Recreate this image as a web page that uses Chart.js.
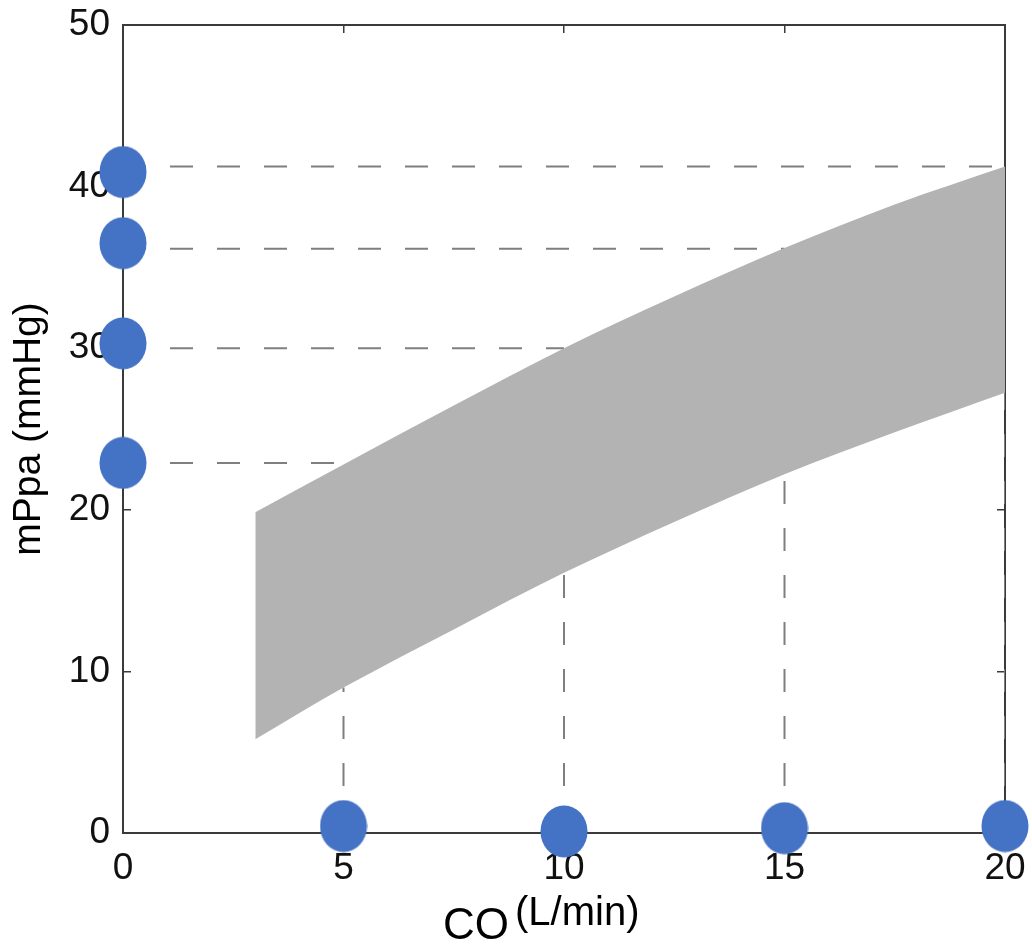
<!DOCTYPE html>
<html>
<head>
<meta charset="utf-8">
<script src="https://cdn.jsdelivr.net/npm/chart.js@4.4.1/dist/chart.umd.min.js"></script>
<style>
  html, body { margin: 0; padding: 0; background: #ffffff; }
  #wrap { width: 1032px; height: 945px; }
</style>
</head>
<body>
<div id="wrap"><canvas id="c" width="1032" height="945"></canvas></div>
<script>
// ---- data ----
const coGrid    = [3, 5, 7.5, 10, 12.5, 15, 17.5, 20];
const upperMPpa = [19.85, 22.8, 26.45, 30.0, 33.2, 36.2, 38.9, 41.25];
const lowerMPpa = [5.8, 9.0, 12.6, 16.1, 19.25, 22.2, 24.8, 27.25];

const coMarks     = [5, 10, 15, 20];
const levelAtMark = [22.9, 30.0, 36.15, 41.25]; // horizontal dashed guides
const lowerAtMark = [9.0, 16.1, 22.2, 27.25];   // vertical dashed guides

const yDotX = [0, 0, 0, 0];
const yDotY = [40.9, 36.5, 30.3, 22.9];
const xDotX = [5, 10, 15, 20];
const xDotY = [0.43, 0.1, 0.3, 0.43];

const xTickValues = [0, 5, 10, 15, 20];
const yTickValues = [0, 10, 20, 30, 40, 50];

const xTitleMain = 'CO';
const xTitleUnit = '(L/min)';
const yTitle = 'mPpa (mmHg)';

// ---- styles ----
const FONT = "'Liberation Sans', Arial, Helvetica, sans-serif";
const BLUE = '#4472c4';
const BAND = '#b3b3b3';
const DASH = '#7f7f7f';
const AXIS = '#3a3a3a';

function ellipseStyle(w, h, color) {
  const cv = document.createElement('canvas');
  cv.width = w; cv.height = h;
  const g = cv.getContext('2d');
  g.fillStyle = color;
  g.beginPath();
  g.ellipse(w / 2, h / 2, w / 2 - 0.5, h / 2 - 0.5, 0, 0, Math.PI * 2);
  g.fill();
  return cv;
}
const dotImg = ellipseStyle(48, 53, BLUE);

const datasets = [];

// dots (on top)
datasets.push({
  type: 'scatter', order: 0, clip: false,
  data: yDotX.map((x, i) => ({ x, y: yDotY[i] })),
  pointStyle: dotImg, pointRadius: 24, showLine: false
});
datasets.push({
  type: 'scatter', order: 0, clip: false,
  data: xDotX.map((x, i) => ({ x, y: xDotY[i] })),
  pointStyle: dotImg, pointRadius: 24, showLine: false
});

// band
datasets.push({
  type: 'line', order: 1,
  data: coGrid.map((x, i) => ({ x, y: upperMPpa[i] })),
  borderWidth: 0, borderColor: 'rgba(0,0,0,0)', pointRadius: 0,
  backgroundColor: BAND, fill: '+1', cubicInterpolationMode: 'monotone'
});
datasets.push({
  type: 'line', order: 1,
  data: coGrid.map((x, i) => ({ x, y: lowerMPpa[i] })),
  borderWidth: 0, borderColor: 'rgba(0,0,0,0)', pointRadius: 0,
  backgroundColor: BAND, fill: false, cubicInterpolationMode: 'monotone'
});

// dashed guides (underneath)
coMarks.forEach((c, i) => {
  datasets.push({
    type: 'line', order: 2,
    data: [{ x: 0, y: levelAtMark[i] }, { x: c, y: levelAtMark[i] }],
    borderColor: DASH, borderWidth: 2, borderDash: [23, 24], pointRadius: 0, fill: false
  });
  datasets.push({
    type: 'line', order: 2,
    data: [{ x: c, y: 0 }, { x: c, y: lowerAtMark[i] }],
    borderColor: DASH, borderWidth: 2, borderDash: [23, 24], pointRadius: 0, fill: false
  });
});

const xTitlePlugin = {
  id: 'xTitle',
  afterDraw(chart) {
    const ctx = chart.ctx;
    const ca = chart.chartArea;
    const left = ca.left + 320;
    ctx.save();
    ctx.fillStyle = '#000';
    ctx.textBaseline = 'alphabetic';
    ctx.textAlign = 'left';
    ctx.font = '44px ' + FONT;
    ctx.fillText(xTitleMain, left, 939);
    const w = ctx.measureText(xTitleMain).width;
    ctx.font = '40px ' + FONT;
    ctx.fillText(xTitleUnit, left + w + 6, 925);
    ctx.restore();
  }
};

const tickFont = { family: FONT, size: 37 };
const noPadX = s => { s.paddingLeft = 0; s.paddingRight = 0; };
const noPadY = s => { s.paddingTop = 0; s.paddingBottom = 0; };

new Chart(document.getElementById('c'), {
  type: 'scatter',
  data: { datasets },
  options: {
    responsive: false,
    animation: false,
    events: [],
    layout: { padding: { top: 21, right: 27, left: 0, bottom: 0 } },
    plugins: { legend: { display: false }, tooltip: { enabled: false } },
    scales: {
      x: {
        type: 'linear', position: 'bottom', min: 0, max: 20,
        afterBuildTicks: s => { s.ticks = xTickValues.map(v => ({ value: v })); },
        afterFit: s => { s.height = 112; noPadX(s); },
        ticks: { font: tickFont, color: '#111', padding: 22, maxRotation: 0 },
        grid: { drawOnChartArea: false, drawTicks: true, tickLength: -8, color: AXIS, tickColor: AXIS, lineWidth: 1.5 },
        border: { display: true, color: AXIS, width: 2 }
      },
      x2: {
        type: 'linear', position: 'top', min: 0, max: 20,
        afterBuildTicks: s => { s.ticks = xTickValues.map(v => ({ value: v })); },
        afterFit: s => { s.height = 0; noPadX(s); },
        ticks: { display: false },
        grid: { drawOnChartArea: false, drawTicks: true, tickLength: -8, color: AXIS, tickColor: AXIS, lineWidth: 1.5 },
        border: { display: true, color: AXIS, width: 2 }
      },
      y: {
        type: 'linear', position: 'left', min: 0, max: 50,
        afterBuildTicks: s => { s.ticks = yTickValues.map(v => ({ value: v })); },
        afterFit: s => { s.width = 123; noPadY(s); },
        ticks: { font: tickFont, color: '#111', padding: 21 },
        title: { display: true, text: yTitle, font: { family: FONT, size: 39 }, color: '#000', padding: { top: 6, bottom: 0 } },
        grid: { drawOnChartArea: false, drawTicks: true, tickLength: -8, color: AXIS, tickColor: AXIS, lineWidth: 1.5 },
        border: { display: true, color: AXIS, width: 2 }
      },
      y2: {
        type: 'linear', position: 'right', min: 0, max: 50,
        afterBuildTicks: s => { s.ticks = yTickValues.map(v => ({ value: v })); },
        afterFit: s => { s.width = 0; noPadY(s); },
        ticks: { display: false },
        grid: { drawOnChartArea: false, drawTicks: true, tickLength: -8, color: AXIS, tickColor: AXIS, lineWidth: 1.5 },
        border: { display: true, color: AXIS, width: 2 }
      }
    }
  },
  plugins: [xTitlePlugin]
});
</script>
</body>
</html>
